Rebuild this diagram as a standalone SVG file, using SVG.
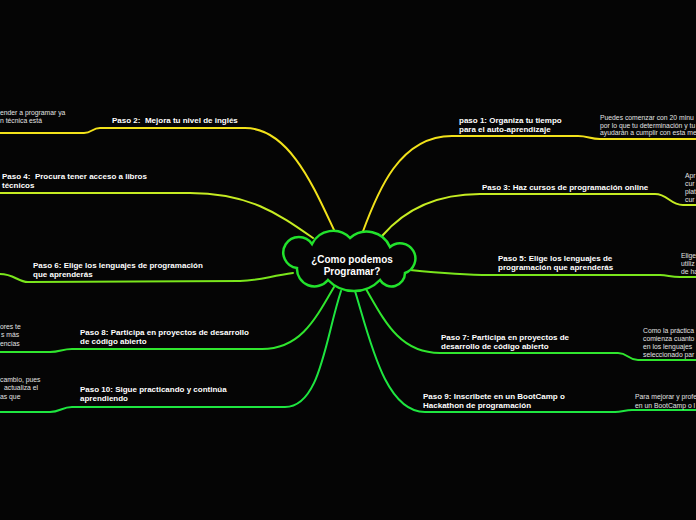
<svg xmlns="http://www.w3.org/2000/svg" width="696" height="520" viewBox="0 0 696 520">
<style>
.bg{fill:#050505}
.c{fill:none;stroke-width:2;stroke-linecap:round}
.y{stroke:#f2e21a}
.yg{stroke:#c6ec22}
.l{stroke:#7ae61c}
.g{stroke:#30e62e}
.g2{stroke:#1ee640}
.t{font-family:"Liberation Sans",Arial,sans-serif;font-weight:bold;font-size:8px;fill:#ffffff;white-space:pre}
.s{font-family:"Liberation Sans",Arial,sans-serif;font-size:6.8px;fill:#e2e2e2}
.m{font-family:"Liberation Sans",Arial,sans-serif;font-weight:bold;font-size:10px;fill:#ffffff;text-anchor:middle}
.cloud{fill:#050505;stroke:#22e22c;stroke-width:2.5}
</style>
<rect class="bg" x="0" y="0" width="696" height="520"/>
<g id="connectors">
<path class="c y" d="M362,234 C378,190 400,136 452,136 L578,136 C588,136 590,139 600,139 L696,139"/>
<path class="c yg" d="M382,236 C400,215 430,194 480,194 L655,194 C668,194 670,205 683,205 L696,205"/>
<path class="c l" d="M410,270 C440,273 460,275 490,275 L660,275 C668,275 670,277 680,277 L696,277"/>
<path class="c g" d="M366,289 C385,322 400,353 440,353 L618,353 C628,353 628,360 638,360 L696,360"/>
<path class="c g2" d="M355,291 C370,340 385,412 425,412 L615,412 C622,412 625,410 632,410 L696,410"/>
<path class="c y" d="M335,232 C315,190 290,128 245,128 L100,128 C92,128 92,133 84,133 L0,133"/>
<path class="c yg" d="M313,238 C280,215 250,193 190,193 L0,193"/>
<path class="c l" d="M293,273 C270,276 258,281 240,281 L28,282 C18,282 14,274 0,274"/>
<path class="c g" d="M334,287 C315,320 300,349 262,349 L72,349 C62,349 60,352 50,352 L0,352"/>
<path class="c g2" d="M341,291 C325,340 320,407 285,407 L72,407 C62,407 60,412 50,412 L0,412"/>
</g>
<g id="center">
<path class="cloud" d="M312,244 A23.5,23.5 0 0 1 350,238 A25.2,25.2 0 0 1 390,247 A15.3,15.3 0 1 1 405,273 A13.5,13.5 0 0 1 380,280 A36,36 0 0 1 328,280 A17.5,17.5 0 0 1 297,268 A15.6,15.6 0 1 1 312,244 Z"/>
<text class="m" x="352" y="262.5">¿Como podemos</text>
<text class="m" x="352" y="274.5">Programar?</text>
</g>
<g id="paso1">
<text class="t" x="459" y="123">paso 1: Organiza tu tiempo</text>
<text class="t" x="459" y="132">para el auto-aprendizaje</text>
</g>
<g id="paso1-sub">
<text class="s" x="600" y="119.5">Puedes comenzar con 20 minu</text>
<text class="s" x="600" y="127.5">por lo que tu determinación y tu</text>
<text class="s" x="600" y="135">ayudarán a cumplir con esta me</text>
</g>
<g id="paso3">
<text class="t" x="482" y="190">Paso 3: Haz cursos de programación online</text>
</g>
<g id="paso3-sub">
<text class="s" x="685" y="177.5">Apr</text>
<text class="s" x="685" y="185.5">cur</text>
<text class="s" x="685" y="193.5">plat</text>
<text class="s" x="685" y="201.5">cur</text>
</g>
<g id="paso5">
<text class="t" x="498" y="261">Paso 5: Elige los lenguajes de</text>
<text class="t" x="498" y="270">programación que aprenderás</text>
</g>
<g id="paso5-sub">
<text class="s" x="681" y="257.5">Elige</text>
<text class="s" x="681" y="265.5">utiliz</text>
<text class="s" x="681" y="274">de ha</text>
</g>
<g id="paso7">
<text class="t" x="441" y="340">Paso 7: Participa en proyectos de</text>
<text class="t" x="441" y="349">desarrollo de código abierto</text>
</g>
<g id="paso7-sub">
<text class="s" x="643" y="333">Como la práctica</text>
<text class="s" x="643" y="341">comienza cuanto</text>
<text class="s" x="643" y="349">en los lenguajes</text>
<text class="s" x="643" y="357">seleccionado par</text>
</g>
<g id="paso9">
<text class="t" x="423" y="399">Paso 9: Inscribete en un BootCamp o</text>
<text class="t" x="423" y="408">Hackathon de programación</text>
</g>
<g id="paso9-sub">
<text class="s" x="635" y="399">Para mejorar y profe</text>
<text class="s" x="635" y="408">en un BootCamp o l</text>
</g>
<g id="paso2">
<text class="t" x="112" y="123">Paso 2:  Mejora tu nivel de inglés</text>
</g>
<g id="paso2-sub">
<text class="s" x="0" y="115">ender a programar ya</text>
<text class="s" x="0" y="122.5">n técnica está</text>
</g>
<g id="paso4">
<text class="t" x="2" y="179">Paso 4:  Procura tener acceso a libros</text>
<text class="t" x="2" y="188">técnicos</text>
</g>
<g id="paso6">
<text class="t" x="33" y="268">Paso 6: Elige los lenguajes de programación</text>
<text class="t" x="33" y="277">que aprenderás</text>
</g>
<g id="paso8">
<text class="t" x="80" y="335">Paso 8: Participa en proyectos de desarrollo</text>
<text class="t" x="80" y="344">de código abierto</text>
</g>
<g id="paso8-sub">
<text class="s" x="0" y="329">ores te</text>
<text class="s" x="1" y="337">s más</text>
<text class="s" x="0" y="346">encias</text>
</g>
<g id="paso10">
<text class="t" x="80" y="392">Paso 10: Sigue practicando y continúa</text>
<text class="t" x="80" y="401">aprendiendo</text>
</g>
<g id="paso10-sub">
<text class="s" x="0" y="381.5">cambio, pues</text>
<text class="s" x="4" y="390">actualiza el</text>
<text class="s" x="0" y="398.5">as que</text>
</g>
</svg>
